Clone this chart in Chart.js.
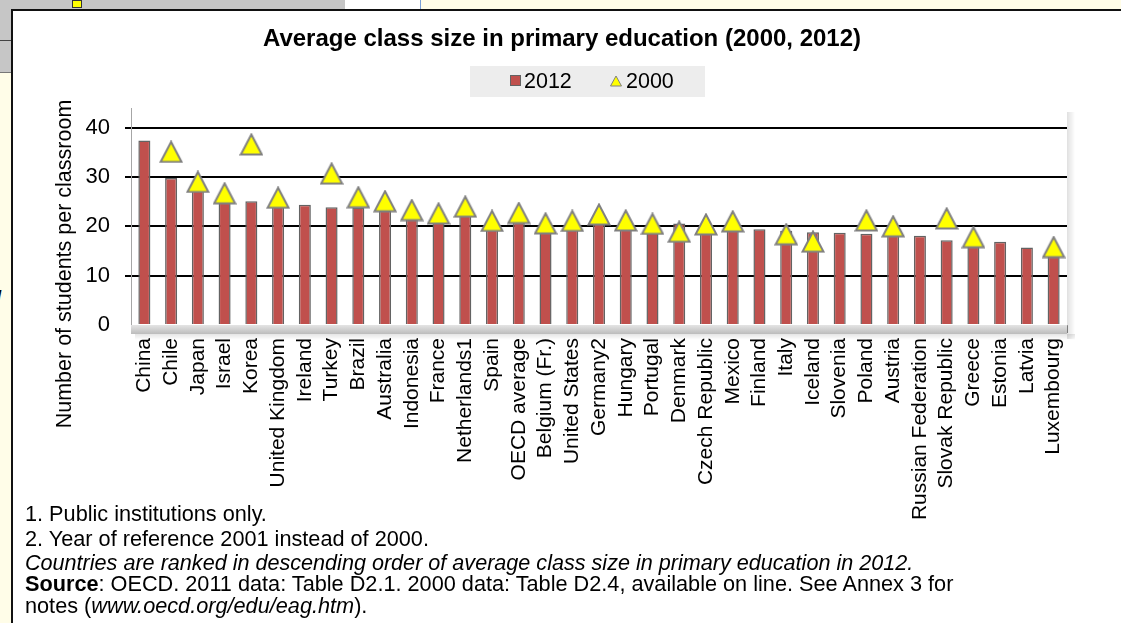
<!DOCTYPE html>
<html><head><meta charset="utf-8">
<script src="https://cdn.jsdelivr.net/npm/chart.js@4.4.0/dist/chart.umd.min.js"></script>
<style>
html,body{margin:0;padding:0;width:1121px;height:623px;overflow:hidden;background:#FFFDE8;font-family:"Liberation Sans",Arial,sans-serif;}
#topgray{position:absolute;left:0;top:0;width:345px;height:10px;background:#C6C6C6;border-bottom:1px solid #555;}
#topwhite{position:absolute;left:345px;top:0;width:75px;height:10px;background:#fff;}
#topline{position:absolute;left:420px;top:0;width:1px;height:10px;background:#7aa0d8;}
#yel{position:absolute;left:72px;top:0;width:8px;height:6px;background:#ffff00;border:1px solid #333;}
#leftgray{position:absolute;left:0;top:0;width:11px;height:72px;background:#C6C6C6;border-bottom:1px solid #777;}
#leftgray2{position:absolute;left:0;top:40px;width:11px;height:1px;background:#444;}
#leftclip{position:absolute;left:0;top:72px;width:10px;height:551px;overflow:hidden;}
#frame{position:absolute;left:11px;top:9px;width:1110px;height:614px;background:#fff;border-left:2px solid #111;border-top:2px solid #111;box-sizing:border-box;}
#c{position:absolute;left:0;top:0;}
.note{position:absolute;left:25px;font-size:21.7px;line-height:24px;color:#000;white-space:nowrap;}
</style></head>
<body>
<div id="topgray"></div><div id="topwhite"></div><div id="topline"></div><div id="yel"></div>
<div id="leftgray"></div><div id="leftgray2"></div>
<div id="leftclip">
  <div style="position:absolute;left:-12px;top:185px;font-size:21px;font-style:italic;">u</div>
  <div style="position:absolute;left:-10px;top:210px;font-size:21px;font-style:italic;">g</div>
  <div style="position:absolute;left:-9px;top:30px;font-size:16px;transform:rotate(90deg);transform-origin:0 0;white-space:nowrap;">Hungary</div>
</div>
<div id="frame"></div>
<canvas id="c" width="1121" height="623"></canvas>
<div class="note" style="top:502px;">1. Public institutions only.</div>
<div class="note" style="top:527px;">2. Year of reference 2001 instead of 2000.</div>
<div class="note" style="top:551px;font-style:italic;font-size:21.6px;">Countries are ranked in descending order of average class size in primary education in 2012.</div>
<div class="note" style="top:572px;"><b>Source</b>: OECD. 2011 data: Table D2.1. 2000 data: Table D2.4, available on line. See Annex 3 for</div>
<div class="note" style="top:594px;">notes (<i>www.oecd.org/edu/eag.htm</i>).</div>
<script>
const categories = ["China","Chile","Japan","Israel","Korea","United Kingdom","Ireland","Turkey","Brazil","Australia","Indonesia","France","Netherlands1","Spain","OECD average","Belgium (Fr.)","United States","Germany2","Hungary","Portugal","Denmark","Czech Republic","Mexico","Finland","Italy","Iceland","Slovenia","Poland","Austria","Russian Federation","Slovak Republic","Greece","Estonia","Latvia","Luxembourg"];
const values2012 = [37.4,29.8,27.9,25.8,25.1,24.8,24.4,23.9,23.8,23.2,22.7,22.5,22.2,21.0,20.9,20.8,20.8,20.7,20.7,20.6,20.6,20.0,19.7,19.4,19.1,18.8,18.7,18.5,18.3,18.1,17.2,17.0,16.9,15.7,15.4];
const values2000 = [null,35.1,29.0,26.7,36.6,25.8,null,30.7,25.9,25.1,23.3,22.6,24.0,21.1,22.7,20.6,21.1,22.4,21.2,20.5,18.9,20.4,21.0,null,18.4,16.9,null,21.2,20.0,null,21.6,17.8,null,null,15.8];
const yTickValues = [0,10,20,30,40];
const titleText = "Average class size in primary education (2000, 2012)";
const yTitleText = "Number of students per classroom";
const seriesLabels = ["2012","2000"];

const FAM = '"Liberation Sans", Arial, sans-serif';
const BAR_FILL = '#C0504D', BAR_EDGE = '#636363', TRI_FILL = '#FFFF00', TRI_EDGE = '#808080';

function makeTri(w, h, lw){
  const cv = document.createElement('canvas');
  cv.width = w; cv.height = h;
  const c = cv.getContext('2d');
  c.beginPath();
  c.moveTo(w/2, lw/2+0.5);
  c.lineTo(w - lw/2 - 0.5, h - lw/2 - 0.5);
  c.lineTo(lw/2 + 0.5, h - lw/2 - 0.5);
  c.closePath();
  c.fillStyle = TRI_FILL; c.fill();
  c.lineWidth = lw; c.strokeStyle = TRI_EDGE; c.lineJoin='miter'; c.stroke();
  return cv;
}
const triImg = makeTri(24, 23, 2);

const deco = {
  id: 'deco',
  beforeDatasetsDraw(chart){
    const {ctx, chartArea:a} = chart;
    ctx.save();
    const g = ctx.createLinearGradient(0, a.bottom, 0, a.bottom + 9);
    g.addColorStop(0, '#e4e4e4'); g.addColorStop(1, '#bcbcbc');
    ctx.fillStyle = g; ctx.fillRect(a.left, a.bottom, a.right - a.left, 9);
    const g3 = ctx.createLinearGradient(0, a.bottom + 9, 0, a.bottom + 15);
    g3.addColorStop(0, 'rgba(0,0,0,0.10)'); g3.addColorStop(1, 'rgba(0,0,0,0)');
    ctx.fillStyle = g3; ctx.fillRect(a.left + 4, a.bottom + 9, a.right - a.left + 4, 6);
    const g2 = ctx.createLinearGradient(a.right, 0, a.right + 8, 0);
    g2.addColorStop(0, 'rgba(0,0,0,0.12)'); g2.addColorStop(1, 'rgba(0,0,0,0)');
    ctx.fillStyle = g2; ctx.fillRect(a.right, a.top + 4, 8, a.bottom - a.top + 10);
    ctx.restore();
  },
  afterDraw(chart){
    const {ctx} = chart;
    ctx.save();
    // title
    ctx.fillStyle = '#000';
    ctx.font = 'bold 24px ' + FAM;
    ctx.textAlign = 'center'; ctx.textBaseline = 'alphabetic';
    ctx.fillText(titleText, 562, 46);
    // legend
    ctx.fillStyle = '#EDEDED';
    ctx.fillRect(470, 66, 235, 31);
    ctx.fillStyle = BAR_FILL; ctx.fillRect(510, 75, 11, 11);
    ctx.strokeStyle = BAR_EDGE; ctx.lineWidth = 1; ctx.strokeRect(510.5, 75.5, 10, 10);
    ctx.beginPath(); ctx.moveTo(616, 76); ctx.lineTo(621.5, 86); ctx.lineTo(610.5, 86); ctx.closePath();
    ctx.fillStyle = TRI_FILL; ctx.fill(); ctx.strokeStyle = TRI_EDGE; ctx.stroke();
    ctx.fillStyle = '#000'; ctx.font = '21.5px ' + FAM; ctx.textAlign = 'left';
    ctx.fillText(seriesLabels[0], 524, 88);
    ctx.fillText(seriesLabels[1], 626, 88);
    // y axis title
    ctx.font = '21.5px ' + FAM;
    ctx.translate(65, 264); ctx.rotate(-Math.PI/2);
    ctx.textAlign = 'center'; ctx.textBaseline = 'middle';
    ctx.fillText(yTitleText, 0, 0);
    ctx.restore();
  }
};

new Chart(document.getElementById('c'), {
  type: 'bar',
  data: {
    labels: categories,
    datasets: [
      { type:'bar', label: seriesLabels[0], data: values2012, backgroundColor: BAR_FILL, borderColor: BAR_EDGE, borderWidth: 1.5, barPercentage: 0.45, categoryPercentage: 1, order: 1 },
      { type:'line', label: seriesLabels[1], data: values2000, showLine: false, pointStyle: triImg, pointRadius: 12, pointHoverRadius: 12, order: 0 }
    ]
  },
  options: {
    responsive: false, devicePixelRatio: 1, animation: false,
    layout: { padding: { left: 71, right: 54, top: 108, bottom: 98 } },
    plugins: { legend: { display: false }, title: { display: false }, tooltip: { enabled: false } },
    scales: {
      x: {
        offset: true,
        grid: { offset: true, drawOnChartArea: false, drawTicks: true, tickLength: 8, color: '#8c8c8c', lineWidth: 1 },
        border: { display: true, color: '#a6a6a6', width: 1 },
        ticks: { autoSkip: false, maxRotation: 90, minRotation: 90, padding: 5, color: '#000', font: { size: 21, family: FAM } },
        afterFit: s => { s.height = 200; }
      },
      y: {
        min: 0, max: 44,
        afterBuildTicks: s => { s.ticks = yTickValues.map(v => ({ value: v })); },
        ticks: { color: '#000', padding: 15, font: { size: 22, family: FAM } },
        grid: { color: c => (c.tick && c.tick.value === 0) ? 'rgba(0,0,0,0)' : '#000', lineWidth: 2, tickLength: 6, drawTicks: true },
        border: { display: true, color: '#a6a6a6', width: 1 },
        afterFit: s => { s.width = 60; }
      }
    }
  },
  plugins: [deco]
});
</script>
</body></html>
